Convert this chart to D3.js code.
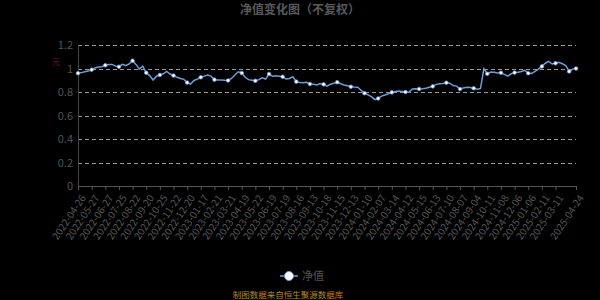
<!DOCTYPE html>
<html>
<head>
<meta charset="utf-8">
<script src="https://cdn.jsdelivr.net/npm/d3@7"></script>
<style>
  html, body { margin: 0; padding: 0; background: #000; }
  svg { display: block; }
</style>
</head>
<body>
<div id="chart"></div>
<script>
// net value, one reading every 5 trading days (index 0 .. 730)
var navStep = 5;
var navValues = [
  0.96, 0.965, 0.972, 0.978, 0.99, 1.005, 1.012, 1.015, 1.028, 1.035,
  1.035, 1.02, 1.015, 1.035, 1.025, 1.04, 1.066, 1.035, 0.995, 1.02,
  0.964, 0.94, 0.902, 0.935, 0.945, 0.955, 0.975, 0.953, 0.94, 0.925,
  0.915, 0.908, 0.88, 0.868, 0.898, 0.91, 0.925, 0.935, 0.945, 0.935,
  0.905, 0.902, 0.903, 0.9, 0.898, 0.915, 0.945, 0.972, 0.962, 0.925,
  0.905, 0.9, 0.895, 0.905, 0.92, 0.91, 0.953, 0.935, 0.938, 0.935,
  0.93, 0.91, 0.915, 0.93, 0.888, 0.88, 0.878, 0.882, 0.868, 0.865,
  0.86, 0.872, 0.865, 0.85, 0.866, 0.875, 0.883, 0.87, 0.86, 0.853,
  0.845, 0.842, 0.84, 0.815, 0.79, 0.775, 0.76, 0.735, 0.745, 0.765,
  0.775, 0.785, 0.797, 0.805, 0.809, 0.805, 0.80, 0.798, 0.826, 0.828,
  0.826, 0.828, 0.832, 0.84, 0.848, 0.865, 0.87, 0.872, 0.879, 0.875,
  0.855, 0.85, 0.825, 0.835, 0.84, 0.838, 0.832, 0.823, 0.83, 1.0,
  0.955, 0.97, 0.968, 0.962, 0.964, 0.95, 0.935, 0.955, 0.965, 0.968,
  0.975, 0.985, 0.96, 0.958, 0.975, 0.995, 1.018, 1.045, 1.06, 1.038,
  1.045, 1.052, 1.04, 1.025, 0.975, 0.995, 1.0
];

var tickLabels = [
  "2022-04-26", "2022-05-27", "2022-06-27", "2022-07-25", "2022-08-22",
  "2022-09-20", "2022-10-25", "2022-11-22", "2022-12-20", "2023-01-17",
  "2023-02-21", "2023-03-21", "2023-04-19", "2023-05-22", "2023-06-19",
  "2023-07-19", "2023-08-16", "2023-09-13", "2023-10-18", "2023-11-15",
  "2023-12-13", "2024-01-10", "2024-02-07", "2024-03-14", "2024-04-12",
  "2024-05-15", "2024-06-13", "2024-07-10", "2024-08-07", "2024-09-04",
  "2024-10-11", "2024-11-08", "2024-12-06", "2025-01-06", "2025-02-11",
  "2025-03-11", "2025-04-24"
];
// trading-day index of each tick label
var tickIndex = [
  0, 20, 40, 60, 80, 100, 120, 140, 160, 180, 200, 220, 240, 260, 280,
  300, 320, 340, 360, 380, 400, 420, 440, 460, 480, 500, 520, 540, 560,
  580, 600, 620, 640, 660, 680, 700, 730
];
var yTicks = [0, 0.2, 0.4, 0.6, 0.8, 1, 1.2];

var width = 600;
var height = 300;
var margin = { top: 45, right: 24, bottom: 114, left: 78 };
var font = "'Noto Sans CJK SC', 'Noto Sans', sans-serif";
var lineColor = "#6f9bd6";

var data = navValues.map(function(v, i) {
  return { idx: i * navStep, value: v };
});
var lastIdx = data[data.length - 1].idx;

var svg = d3.select("#chart").append("svg")
  .attr("width", width)
  .attr("height", height)
  .style("background", "#000");

var x = d3.scaleLinear()
  .domain([0, lastIdx])
  .range([margin.left, width - margin.right]);

var y = d3.scaleLinear()
  .domain([0, 1.2])
  .range([height - margin.bottom, margin.top]);

// title
svg.append("text")
  .attr("x", width / 2)
  .attr("y", 14)
  .attr("text-anchor", "middle")
  .style("font-family", font)
  .style("font-size", "12px")
  .style("font-weight", "bold")
  .style("fill", "#595959")
  .text("净值变化图（不复权）");

// grid
svg.append("g").selectAll("line")
  .data(yTicks.filter(function(d) { return d > 0; }))
  .enter().append("line")
  .attr("x1", x(0))
  .attr("x2", x(lastIdx))
  .attr("y1", function(d) { return Math.round(y(d)) + 0.5; })
  .attr("y2", function(d) { return Math.round(y(d)) + 0.5; })
  .style("stroke", "#9a9a9a")
  .style("stroke-dasharray", "4,3");

// y axis
var yAxis = d3.axisLeft(y)
  .tickValues(yTicks)
  .tickSize(0)
  .tickPadding(5)
  .tickFormat(function(d) { return d3.format("~g")(d); });

var gy = svg.append("g")
  .attr("transform", "translate(" + x(0) + ",0)")
  .call(yAxis);
gy.select(".domain").style("stroke", "#444");
gy.selectAll("text")
  .style("fill", "#555")
  .style("font-family", font)
  .style("font-size", "11px");

svg.append("text")
  .attr("x", 56)
  .attr("y", 65)
  .attr("text-anchor", "middle")
  .style("font-family", font)
  .style("font-size", "8px")
  .style("fill", "#8b1010")
  .text("元");

// x axis
var xAxis = d3.axisBottom(x)
  .tickValues(tickIndex)
  .tickSize(4)
  .tickSizeOuter(0)
  .tickFormat(function(d, i) { return tickLabels[i]; });

var gx = svg.append("g")
  .attr("transform", "translate(0," + y(0) + ")")
  .call(xAxis);
gx.select(".domain").style("stroke", "#555");
gx.selectAll(".tick line").style("stroke", "#555");
gx.selectAll("text")
  .style("fill", "#555")
  .style("font-family", font)
  .style("font-size", "10px")
  .attr("text-anchor", "end")
  .attr("dx", "0")
  .attr("dy", "0")
  .attr("transform", "translate(2,8) rotate(-56)");

// line
var line = d3.line()
  .x(function(d) { return x(d.idx); })
  .y(function(d) { return y(d.value); });

svg.append("path")
  .datum(data)
  .attr("d", line)
  .style("fill", "none")
  .style("stroke", lineColor)
  .style("stroke-width", 1.5);

svg.append("g").selectAll("circle")
  .data(data.filter(function(d) { return d.idx % 20 === 0 || d.idx === lastIdx; }))
  .enter().append("circle")
  .attr("cx", function(d) { return x(d.idx); })
  .attr("cy", function(d) { return y(d.value); })
  .attr("r", 1.8)
  .style("fill", "#fff")
  .style("stroke", lineColor)
  .style("stroke-width", 0.8);

// legend
var legend = svg.append("g").attr("transform", "translate(289,276)");
legend.append("line")
  .attr("x1", -9).attr("x2", 9)
  .style("stroke", lineColor)
  .style("stroke-width", 1.5);
legend.append("circle")
  .attr("r", 4.5)
  .style("fill", "#fff")
  .style("stroke", lineColor)
  .style("stroke-width", 1);
legend.append("text")
  .attr("x", 13)
  .attr("y", 4)
  .style("font-family", font)
  .style("font-size", "11px")
  .style("fill", "#555")
  .text("净值");

// source note
svg.append("text")
  .attr("x", width / 2 - 12)
  .attr("y", 298)
  .attr("text-anchor", "middle")
  .style("font-family", font)
  .style("font-size", "8.5px")
  .style("fill", "#b8862a")
  .text("制图数据来自恒生聚源数据库");
</script>
</body>
</html>
